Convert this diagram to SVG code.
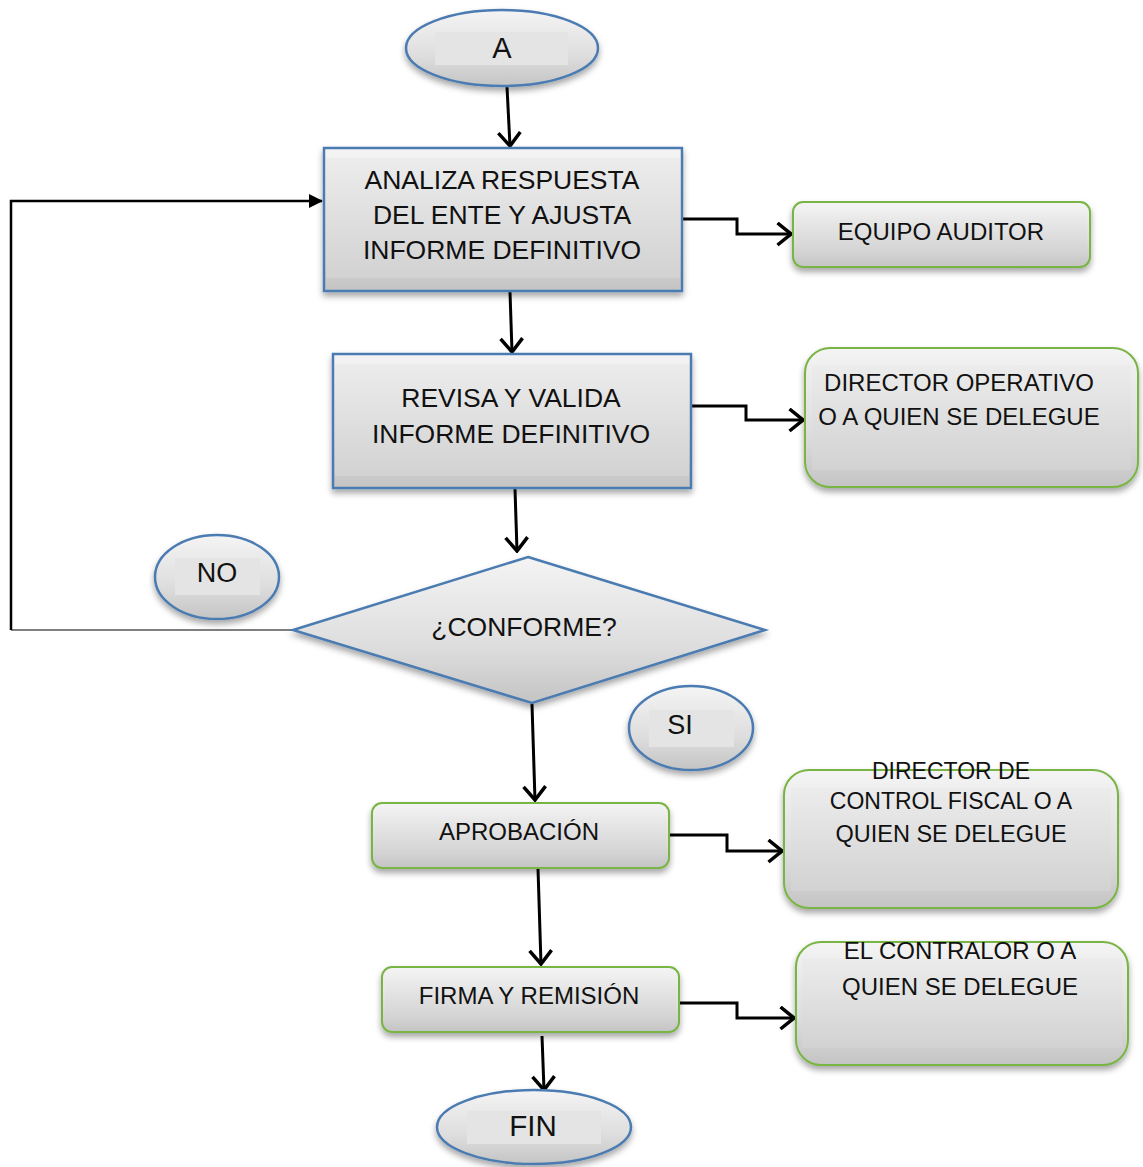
<svg xmlns="http://www.w3.org/2000/svg" width="1143" height="1167" viewBox="0 0 1143 1167">
<defs>
<linearGradient id="g" x1="0" y1="0" x2="0" y2="1">
<stop offset="0" stop-color="#f4f4f4"/>
<stop offset="0.6" stop-color="#dedede"/>
<stop offset="1" stop-color="#c4c4c4"/>
</linearGradient>
<linearGradient id="gi" x1="0" y1="0" x2="0" y2="1">
<stop offset="0" stop-color="#ececec"/>
<stop offset="1" stop-color="#d2d2d2"/>
</linearGradient>
<filter id="sh" x="-10%" y="-10%" width="120%" height="130%">
<feDropShadow dx="0" dy="4" stdDeviation="3" flood-color="#000" flood-opacity="0.35"/>
</filter>
<marker id="open" viewBox="0 0 17 25" refX="15" refY="12.5" markerWidth="17" markerHeight="25" markerUnits="userSpaceOnUse" orient="auto">
<path d="M1.5,1.5 L15,12.5 L1.5,23.5" fill="none" stroke="#000" stroke-width="3.5"/>
</marker>
<marker id="tri" viewBox="0 0 14 14" refX="13" refY="7" markerWidth="14" markerHeight="14" markerUnits="userSpaceOnUse" orient="auto">
<path d="M0,0 L14,7 L0,14 Z" fill="#000"/>
</marker>
</defs>
<style>
.blue{fill:url(#g);stroke:#4b7bb1;stroke-width:2.5;filter:url(#sh)}
.green{fill:url(#g);stroke:#79b545;stroke-width:2;filter:url(#sh)}
.band{fill:url(#gi);stroke:none}
.eband{fill:#e4e4e4;stroke:none}
.t{font-family:"Liberation Sans",Arial,sans-serif;fill:#111;text-anchor:middle}
.big{font-size:26.5px}
.sm{font-size:24px}
.c{fill:none;stroke:#000;stroke-width:3}
</style>

<g id="connectors">
<path class="c" d="M507,87 L510,146" marker-end="url(#open)"/>
<path class="c" d="M510,292 L512,352" marker-end="url(#open)"/>
<path class="c" d="M515,489 L517,551" marker-end="url(#open)"/>
<path class="c" d="M532,704 L535,800" marker-end="url(#open)"/>
<path class="c" d="M538,869 L541,964" marker-end="url(#open)"/>
<path class="c" d="M542,1036 L544,1090" marker-end="url(#open)"/>
<path class="c" d="M682,219 L737,219 L737,234 L791,234" marker-end="url(#open)"/>
<path class="c" d="M691,406 L746,406 L746,420 L803,420" marker-end="url(#open)"/>
<path class="c" d="M669,835 L727,835 L727,851 L782,851" marker-end="url(#open)"/>
<path class="c" d="M679,1003 L737,1003 L737,1018 L794,1018" marker-end="url(#open)"/>
<path d="M293,630 L11,630" fill="none" stroke="#555" stroke-width="1.5"/>
<path d="M11,630 L11,201 L322,201" fill="none" stroke="#000" stroke-width="2.5" marker-end="url(#tri)"/>
</g>

<g id="nA">
<ellipse class="blue" cx="502" cy="48" rx="96" ry="38"/>
<rect class="eband" x="435" y="32" width="133" height="33"/>
<text class="t" x="502" y="58" font-size="29">A</text>
</g>

<g id="n1">
<rect class="blue" x="324" y="148" width="358" height="143"/>
<rect class="band" x="326" y="158" width="354" height="120"/>
<text class="t big" x="502" y="189">ANALIZA RESPUESTA</text>
<text class="t big" x="502" y="224">DEL ENTE Y AJUSTA</text>
<text class="t big" x="502" y="259">INFORME DEFINITIVO</text>
</g>

<g id="n2">
<rect class="blue" x="333" y="354" width="358" height="134"/>
<rect class="band" x="335" y="364" width="354" height="112"/>
<text class="t big" x="511" y="407">REVISA Y VALIDA</text>
<text class="t big" x="511" y="443">INFORME DEFINITIVO</text>
</g>

<g id="nEquipo">
<rect class="green" x="793" y="202" width="297" height="65" rx="10"/>
<rect class="band" x="796" y="214" width="291" height="40"/>
<text class="t sm" x="941" y="240">EQUIPO AUDITOR</text>
</g>

<g id="nDirOp">
<rect class="green" x="805" y="348" width="333" height="139" rx="25"/>
<rect class="band" x="812" y="365" width="319" height="105"/>
<text class="t sm" x="959" y="391">DIRECTOR OPERATIVO</text>
<text class="t sm" x="959" y="425">O A QUIEN SE DELEGUE</text>
</g>

<g id="nDiamond">
<polygon class="blue" points="528,557 765,630 532,703 293,630"/>
<text class="t big" x="524" y="636">¿CONFORME?</text>
</g>

<g id="nNO">
<ellipse class="blue" cx="217" cy="577" rx="62" ry="42"/>
<rect class="eband" x="175" y="558" width="85" height="37"/>
<text class="t" x="217" y="582" font-size="27">NO</text>
</g>

<g id="nSI">
<ellipse class="blue" cx="691" cy="728" rx="62" ry="42"/>
<rect class="eband" x="649" y="710" width="85" height="37"/>
<text class="t" x="680" y="734" font-size="27">SI</text>
</g>

<g id="nAprob">
<rect class="green" x="372" y="803" width="297" height="65" rx="10"/>
<rect class="band" x="375" y="815" width="291" height="40"/>
<text class="t sm" x="519" y="840">APROBACIÓN</text>
</g>

<g id="nDirCF">
<rect class="green" x="784" y="770" width="334" height="138" rx="25"/>
<rect class="band" x="791" y="788" width="320" height="103"/>
<text class="t" x="951" y="779" font-size="23">DIRECTOR DE</text>
<text class="t" x="951" y="809" font-size="23">CONTROL FISCAL O A</text>
<text class="t" x="951" y="842" font-size="23.5">QUIEN SE DELEGUE</text>
</g>

<g id="nFirma">
<rect class="green" x="382" y="967" width="297" height="65" rx="10"/>
<rect class="band" x="385" y="979" width="291" height="40"/>
<text class="t sm" x="529" y="1004">FIRMA Y REMISIÓN</text>
</g>

<g id="nContralor">
<rect class="green" x="796" y="942" width="332" height="123" rx="25"/>
<rect class="band" x="802" y="958" width="320" height="90"/>
<text class="t sm" x="960" y="959">EL CONTRALOR O A</text>
<text class="t sm" x="960" y="995">QUIEN SE DELEGUE</text>
</g>

<g id="nFIN">
<ellipse class="blue" cx="534" cy="1127" rx="97" ry="37"/>
<rect class="eband" x="467" y="1111" width="134" height="33"/>
<text class="t" x="533" y="1136" font-size="29.5">FIN</text>
</g>
</svg>
